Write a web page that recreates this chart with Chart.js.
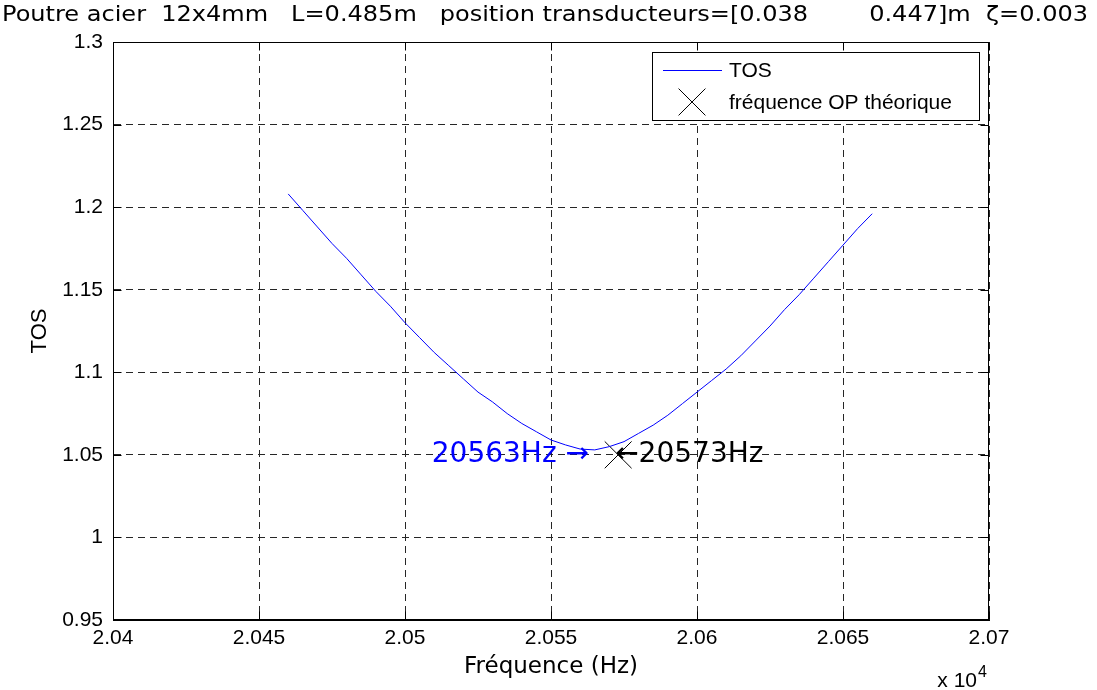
<!DOCTYPE html>
<html>
<head>
<meta charset="utf-8">
<script src="https://cdn.jsdelivr.net/npm/chart.js@4.4.1/dist/chart.umd.min.js"></script>
<style>
  html, body { margin: 0; padding: 0; background: #fff; }
  #wrap { width: 1097px; height: 690px; }
</style>
</head>
<body>
<div id="wrap"><canvas id="c" width="1097" height="690"></canvas></div>
<script>
// Standing-wave ratio (TOS) of the beam versus excitation frequency
const frequencies = [
  20460, 20465, 20470, 20475, 20480, 20485, 20490, 20495, 20500, 20505,
  20510, 20515, 20520, 20525, 20530, 20535, 20540, 20545, 20550, 20555,
  20560, 20565, 20570, 20575, 20580, 20585, 20590, 20595, 20600, 20605,
  20610, 20615, 20620, 20625, 20630, 20635, 20640, 20645, 20650, 20655,
  20660
];
const tosValues = [
  1.208, 1.198, 1.188, 1.178, 1.169, 1.159, 1.149, 1.140, 1.130, 1.121,
  1.112, 1.104, 1.096, 1.088, 1.082, 1.075, 1.069, 1.064, 1.059, 1.056,
  1.0535, 1.053, 1.055, 1.058, 1.063, 1.068, 1.074, 1.081, 1.088, 1.095,
  1.102, 1.110, 1.119, 1.128, 1.138, 1.147, 1.157, 1.167, 1.177, 1.187,
  1.196
];

// Theoretical OP frequency marker
const theoreticalFreq = [20573];
const theoreticalTos = [1.05];

// Frequency of the measured minimum
const measuredMinFreq = 20563;

// Axis ticks
const xTickValues = [20400, 20450, 20500, 20550, 20600, 20650, 20700];
const xTickLabels = ['2.04', '2.045', '2.05', '2.055', '2.06', '2.065', '2.07'];
const yTickValues = [0.95, 1, 1.05, 1.1, 1.15, 1.2, 1.25, 1.3];
const yTickLabels = ['0.95', '1', '1.05', '1.1', '1.15', '1.2', '1.25', '1.3'];

const titleText = 'Poutre acier  12x4mm   L=0.485m   position transducteurs=[0.038        0.447]m  \u03B6=0.003';
const xTitle = 'Fr\u00E9quence (Hz)';
const yTitle = 'TOS';

const tickFont = { family: '"Liberation Sans", Arial, sans-serif', size: 21 };
const gridColor = '#262626';
const markerRadius = 19;

const decor = {
  id: 'decor',
  afterDraw(chart) {
    const { ctx, chartArea: a, scales: { x, y } } = chart;
    const L = Math.round(a.left) + 0.5, R = Math.round(a.right) - 0.5;
    const T = Math.round(a.top) + 0.5, B = Math.round(a.bottom) - 0.5;
    ctx.save();

    // axes box
    ctx.strokeStyle = '#000';
    ctx.lineWidth = 1;
    ctx.setLineDash([]);
    ctx.strokeRect(L, T, R - L, B - T);

    // inward tick marks on all four sides
    const tl = 8;
    ctx.beginPath();
    xTickValues.forEach(v => {
      const px = Math.round(x.getPixelForValue(v)) + 0.5;
      ctx.moveTo(px, T); ctx.lineTo(px, T + tl);
      ctx.moveTo(px, B); ctx.lineTo(px, B - tl);
    });
    yTickValues.forEach(v => {
      const py = Math.round(y.getPixelForValue(v)) + 0.5;
      ctx.moveTo(L, py); ctx.lineTo(L + tl, py);
      ctx.moveTo(R, py); ctx.lineTo(R - tl, py);
    });
    ctx.stroke();

    // frequency annotations
    const ay = y.getPixelForValue(theoreticalTos[0]);
    ctx.font = '28px "DejaVu Sans", Verdana, sans-serif';
    ctx.textBaseline = 'middle';
    ctx.fillStyle = '#0000ff';
    ctx.textAlign = 'right';
    ctx.fillText(measuredMinFreq + 'Hz \u2192', x.getPixelForValue(measuredMinFreq), ay);
    ctx.fillStyle = '#000';
    ctx.textAlign = 'left';
    ctx.fillText('\u2190' + theoreticalFreq[0] + 'Hz', x.getPixelForValue(theoreticalFreq[0]) - 3, ay);

    // legend
    const lx = 652.5, ly = 52.5, lw = 327, lh = 68;
    ctx.fillStyle = '#fff';
    ctx.fillRect(lx, ly, lw, lh);
    ctx.strokeStyle = '#000';
    ctx.strokeRect(lx, ly, lw, lh);
    const ds = chart.data.datasets;
    ctx.font = '21px "Liberation Sans", Arial, sans-serif';
    ctx.textAlign = 'left';
    ctx.textBaseline = 'middle';
    ctx.strokeStyle = ds[0].borderColor;
    ctx.lineWidth = 1;
    ctx.beginPath();
    ctx.moveTo(663, 70.5); ctx.lineTo(722, 70.5);
    ctx.stroke();
    ctx.fillStyle = '#000';
    ctx.fillText(ds[0].label, 729, 71);
    ctx.strokeStyle = ds[1].borderColor;
    Chart.helpers.drawPoint(ctx, { pointStyle: 'crossRot', radius: markerRadius, rotation: 0, borderWidth: 1 }, 692, 102);
    ctx.fillText(ds[1].label, 729, 103);

    // title, fitted to the page width
    ctx.font = '21px "DejaVu Sans", Verdana, sans-serif';
    ctx.fillStyle = '#000';
    ctx.textAlign = 'left';
    ctx.textBaseline = 'middle';
    const tw = ctx.measureText(titleText).width;
    ctx.save();
    ctx.translate(2, 16);
    ctx.scale(1086 / tw, 1);
    ctx.fillText(titleText, 0, 0);
    ctx.restore();

    // axis titles
    ctx.font = '23px "DejaVu Sans", Verdana, sans-serif';
    ctx.textAlign = 'center';
    ctx.fillText(xTitle, 551, 667);

    ctx.save();
    ctx.translate(40, 331);
    ctx.rotate(-Math.PI / 2);
    ctx.font = '22px "Liberation Sans", Arial, sans-serif';
    ctx.fillText(yTitle, 0, 0);
    ctx.restore();

    // exponent of the frequency axis
    ctx.font = '21px "Liberation Sans", Arial, sans-serif';
    ctx.textAlign = 'right';
    ctx.textBaseline = 'alphabetic';
    ctx.fillText('x 10', 977, 687);
    ctx.font = '16px "Liberation Sans", Arial, sans-serif';
    ctx.textAlign = 'left';
    ctx.fillText('4', 978, 677);

    ctx.restore();
  }
};

new Chart(document.getElementById('c'), {
  type: 'line',
  data: {
    datasets: [
      {
        label: 'TOS',
        data: frequencies.map((f, i) => ({ x: f, y: tosValues[i] })),
        borderColor: '#0000ff',
        borderWidth: 1,
        pointRadius: 0,
        tension: 0,
        fill: false
      },
      {
        label: 'fr\u00E9quence OP th\u00E9orique',
        data: theoreticalFreq.map((f, i) => ({ x: f, y: theoreticalTos[i] })),
        showLine: false,
        pointStyle: 'crossRot',
        pointRadius: markerRadius,
        borderColor: '#000',
        backgroundColor: '#000',
        pointBorderWidth: 1,
        borderWidth: 1
      }
    ]
  },
  options: {
    responsive: false,
    animation: false,
    devicePixelRatio: 1,
    layout: { padding: { left: 0, top: 42, right: 108, bottom: 40 } },
    plugins: { legend: { display: false }, tooltip: { enabled: false }, title: { display: false } },
    scales: {
      x: {
        type: 'linear',
        min: 20400,
        max: 20700,
        afterBuildTicks: s => { s.ticks = xTickValues.map(v => ({ value: v })); },
        afterFit: s => { s.height = 30; },
        ticks: {
          callback: (v, i) => xTickLabels[i],
          font: tickFont, color: '#000', padding: 6, maxRotation: 0, autoSkip: false
        },
        grid: { color: gridColor, lineWidth: 1, drawTicks: false },
        border: { color: '#000', dash: [7, 5] }
      },
      y: {
        type: 'linear',
        min: 0.95,
        max: 1.3,
        afterBuildTicks: s => { s.ticks = yTickValues.map(v => ({ value: v })); },
        afterFit: s => { s.width = 113; },
        ticks: {
          callback: (v, i) => yTickLabels[i],
          font: tickFont, color: '#000', padding: 10, autoSkip: false
        },
        grid: { color: gridColor, lineWidth: 1, drawTicks: false },
        border: { color: '#000', dash: [7, 5] }
      }
    }
  },
  plugins: [decor]
});
</script>
</body>
</html>
